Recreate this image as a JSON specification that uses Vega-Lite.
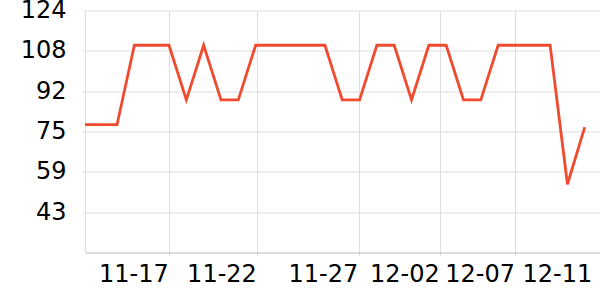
{
  "$schema": "https://vega.github.io/schema/vega-lite/v6.json",
  "width": 515,
  "height": 242,
  "autosize": {"type": "none"},
  "padding": {"left": 85, "top": 10.5, "right": 0, "bottom": 47.5},
  "config": {
    "view": {"stroke": null},
    "font": "DejaVu Sans"
  },
  "data": {
    "values": [
      {"date": "2023-11-12", "value": 78},
      {"date": "2023-11-13", "value": 78},
      {"date": "2023-11-14", "value": 78},
      {"date": "2023-11-15", "value": 110},
      {"date": "2023-11-16", "value": 110},
      {"date": "2023-11-17", "value": 110},
      {"date": "2023-11-18", "value": 88},
      {"date": "2023-11-19", "value": 110},
      {"date": "2023-11-20", "value": 88},
      {"date": "2023-11-21", "value": 88},
      {"date": "2023-11-22", "value": 110},
      {"date": "2023-11-23", "value": 110},
      {"date": "2023-11-24", "value": 110},
      {"date": "2023-11-25", "value": 110},
      {"date": "2023-11-26", "value": 110},
      {"date": "2023-11-27", "value": 88},
      {"date": "2023-11-28", "value": 88},
      {"date": "2023-11-29", "value": 110},
      {"date": "2023-11-30", "value": 110},
      {"date": "2023-12-01", "value": 88},
      {"date": "2023-12-02", "value": 110},
      {"date": "2023-12-03", "value": 110},
      {"date": "2023-12-04", "value": 88},
      {"date": "2023-12-05", "value": 88},
      {"date": "2023-12-06", "value": 110},
      {"date": "2023-12-07", "value": 110},
      {"date": "2023-12-08", "value": 110},
      {"date": "2023-12-09", "value": 110},
      {"date": "2023-12-10", "value": 54},
      {"date": "2023-12-11", "value": 77}
    ]
  },
  "mark": {"type": "line", "color": "#f04b2f", "strokeWidth": 2.8, "clip": true},
  "encoding": {
    "x": {
      "field": "date",
      "type": "temporal",
      "title": null,
      "scale": {
        "type": "utc",
        "domain": [
          {"year": 2023, "month": 11, "date": 12, "hours": 3, "minutes": 36, "utc": true},
          {"year": 2023, "month": 12, "date": 11, "hours": 21, "minutes": 7, "utc": true}
        ]
      },
      "axis": {
        "values": [
          {"year": 2023, "month": 11, "date": 17, "hours": 0, "minutes": 24, "utc": true},
          {"year": 2023, "month": 11, "date": 22, "hours": 2, "minutes": 24, "utc": true},
          {"year": 2023, "month": 11, "date": 27, "hours": 22, "minutes": 48, "utc": true},
          {"year": 2023, "month": 12, "date": 2, "hours": 15, "minutes": 50, "utc": true},
          {"year": 2023, "month": 12, "date": 7, "hours": 0, "minutes": 0, "utc": true},
          {"year": 2023, "month": 12, "date": 11, "hours": 11, "minutes": 0, "utc": true}
        ],
        "labelExpr": "utcFormat(datum.value, '%m-%d')",
        "labelFontSize": 24,
        "labelColor": "#000000",
        "labelAlign": "right",
        "labelBaseline": "top",
        "labelPadding": 7,
        "labelOffset": -1,
        "labelFlush": false,
        "labelOverlap": false,
        "labelBound": false,
        "domainColor": "#bbbbbb",
        "domainWidth": 1,
        "tickColor": "#dddddd",
        "tickSize": 3,
        "tickOpacity": {"condition": {"test": "utcmonth(datum.value) == 11 && utcdate(datum.value) == 11", "value": 0}, "value": 1},
        "grid": true,
        "gridColor": "#dddddd",
        "gridOpacity": {"condition": {"test": "utcmonth(datum.value) == 11 && utcdate(datum.value) == 11", "value": 0}, "value": 1}
      }
    },
    "y": {
      "field": "value",
      "type": "quantitative",
      "title": null,
      "scale": {"domain": [26.5, 124], "nice": false, "zero": false},
      "axis": {
        "values": [124, 107.75, 91.5, 75.25, 59, 42.75],
        "format": ".0f",
        "labelFontSize": 24,
        "labelColor": "#000000",
        "labelPadding": 16,
        "labelFlush": false,
        "labelOverlap": false,
        "labelBound": false,
        "domainColor": "#dddddd",
        "tickColor": "#dddddd",
        "tickSize": 3,
        "grid": true,
        "gridColor": "#dddddd"
      }
    }
  }
}
